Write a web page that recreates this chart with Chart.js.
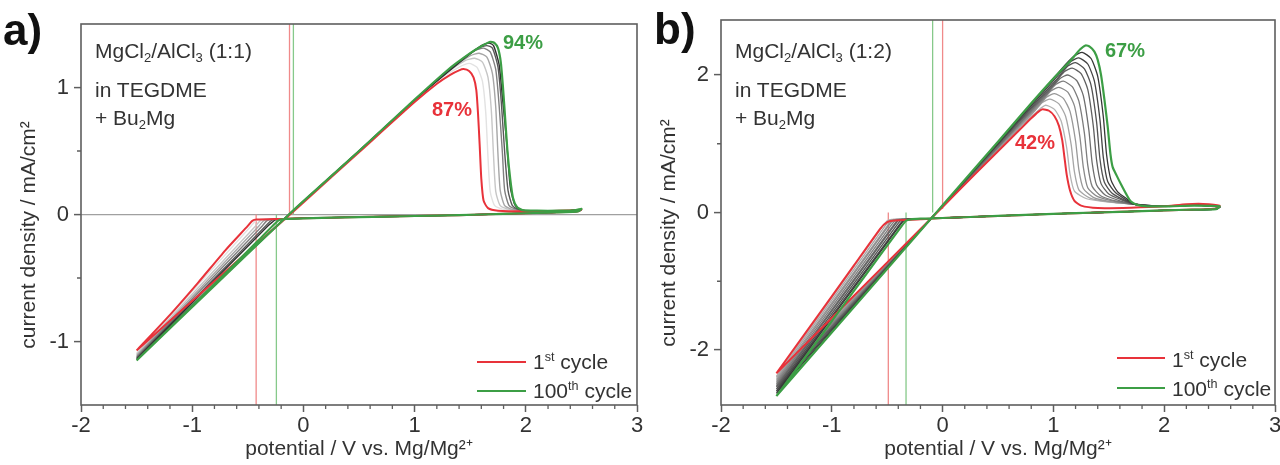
<!DOCTYPE html>
<html><head><meta charset="utf-8">
<script src="https://cdn.jsdelivr.net/npm/chart.js@4.4.1/dist/chart.umd.min.js"></script>
<style>
html,body{margin:0;padding:0;background:#fff;width:1280px;height:465px;overflow:hidden;font-family:"Liberation Sans",Arial,sans-serif;}
#wrap{position:relative;width:1280px;height:465px;}
canvas{position:absolute;top:0;}
.t{position:absolute;white-space:nowrap;color:#333;line-height:1;font-size:21px;}
.pl{font-weight:bold;font-size:44px;color:#111;}
.pc{font-weight:bold;font-size:20px;}
.sb{font-size:0.62em;position:relative;top:0.32em;}
.sp{font-size:0.6em;position:relative;top:-0.6em;}
.lg{position:absolute;height:2px;}
</style></head><body>
<div id="wrap">
<canvas id="ca" width="660" height="465" style="left:0"></canvas>
<canvas id="cb" width="640" height="465" style="left:640px"></canvas>

<div class="t pl" style="left:3px;top:8px">a)</div>
<div class="t" style="left:95px;top:40px">MgCl<span class="sb">2</span>/AlCl<span class="sb">3</span> (1:1)</div>
<div class="t" style="left:95px;top:79px">in TEGDME</div>
<div class="t" style="left:95px;top:107px">+ Bu<span class="sb">2</span>Mg</div>
<div class="t pc" style="left:503px;top:32px;color:#3c9e45">94%</div>
<div class="t pc" style="left:432px;top:99px;color:#e8323a">87%</div>
<div class="lg" style="left:477px;top:361px;width:49px;background:#e8323a"></div>
<div class="t" style="left:533px;top:351px">1<span class="sp">st</span> cycle</div>
<div class="lg" style="left:477px;top:390px;width:49px;background:#3c9e45"></div>
<div class="t" style="left:533px;top:380px">100<span class="sp">th</span> cycle</div>

<div class="t pl" style="left:654px;top:7px">b)</div>
<div class="t" style="left:735px;top:40px">MgCl<span class="sb">2</span>/AlCl<span class="sb">3</span> (1:2)</div>
<div class="t" style="left:735px;top:79px">in TEGDME</div>
<div class="t" style="left:735px;top:107px">+ Bu<span class="sb">2</span>Mg</div>
<div class="t pc" style="left:1105px;top:40px;color:#3c9e45">67%</div>
<div class="t pc" style="left:1015px;top:132px;color:#e8323a">42%</div>
<div class="lg" style="left:1117px;top:357px;width:48px;background:#e8323a"></div>
<div class="t" style="left:1172px;top:349px">1<span class="sp">st</span> cycle</div>
<div class="lg" style="left:1117px;top:387px;width:48px;background:#3c9e45"></div>
<div class="t" style="left:1172px;top:378px">100<span class="sp">th</span> cycle</div>
</div>
<script>
// ---------- axis ticks ----------
const xTicks = [-2, -1, 0, 1, 2, 3];
const xMinorTicks = [-1.8,-1.6,-1.4,-1.2,-0.8,-0.6,-0.4,-0.2,0.2,0.4,0.6,0.8,1.2,1.4,1.6,1.8,2.2,2.4,2.6,2.8];
const aYTicks = [-1, 0, 1];
const aYMinorTicks = [-0.5, 0.5];
const bYTicks = [-2, 0, 2];
const bYMinorTicks = [-1, 1];
const aYRange = [-1.5, 1.5];
const bYRange = [-2.8, 2.8];

// ---------- panel a: MgCl2/AlCl3 (1:1) ----------
const aCycle1 = [[-1.50,-1.07],[-0.80,-0.525],[-0.12,0.00],[0.00,0.095],[0.50,0.49],[1.00,0.885],[1.20,1.03],[1.32,1.10],[1.40,1.135],[1.44,1.145],[1.49,1.13],[1.53,1.08],[1.555,0.98],[1.57,0.80],[1.585,0.55],[1.60,0.28],[1.62,0.11],[1.66,0.05],[1.75,0.03],[2.00,0.025],[2.30,0.03],[2.48,0.035],[2.50,0.04],
  [2.47,0.025],[2.20,0.015],[1.80,0.005],[1.40,-0.005],[1.00,-0.012],[0.50,-0.02],[0.00,-0.03],[-0.20,-0.035],[-0.42,-0.04],[-0.46,-0.05],[-0.50,-0.09],[-0.70,-0.28],[-0.95,-0.54],[-1.20,-0.79],[-1.50,-1.07]];
const aCycle100 = [[-1.50,-1.15],[-0.80,-0.56],[-0.13,0.00],[0.00,0.105],[0.50,0.50],[1.00,0.905],[1.30,1.14],[1.50,1.27],[1.60,1.325],[1.68,1.36],[1.72,1.35],[1.75,1.31],[1.775,1.20],[1.795,1.00],[1.815,0.75],[1.835,0.50],[1.86,0.28],[1.885,0.13],[1.92,0.06],[1.97,0.035],[2.10,0.03],[2.30,0.03],[2.45,0.035],[2.50,0.045],
  [2.47,0.025],[2.20,0.015],[1.80,0.005],[1.40,-0.005],[1.00,-0.012],[0.50,-0.02],[0.00,-0.03],[-0.15,-0.035],[-0.22,-0.045],[-0.26,-0.075],[-0.40,-0.20],[-0.70,-0.46],[-1.00,-0.72],[-1.25,-0.935],[-1.50,-1.15]];
const aGrayTips = [-1.09, -1.10, -1.11, -1.12, -1.13, -1.14];
const aGrayRise = [[-0.13,0.00],[0.50,0.50],[1.00,0.90]];
const aGrayPeaks = [
  [[1.20,1.05],[1.40,1.16],[1.49,1.19],[1.56,1.16],[1.61,1.05],[1.64,0.80],[1.66,0.45],[1.68,0.18],[1.72,0.07],[1.80,0.04]],
  [[1.25,1.09],[1.45,1.21],[1.54,1.23],[1.61,1.20],[1.66,1.08],[1.69,0.82],[1.71,0.46],[1.73,0.18],[1.77,0.07],[1.85,0.04]],
  [[1.30,1.13],[1.50,1.25],[1.58,1.27],[1.65,1.24],[1.70,1.11],[1.73,0.84],[1.75,0.47],[1.77,0.19],[1.81,0.07],[1.88,0.04]],
  [[1.35,1.17],[1.54,1.29],[1.62,1.31],[1.68,1.28],[1.73,1.14],[1.76,0.86],[1.79,0.48],[1.81,0.19],[1.85,0.07],[1.92,0.04]],
  [[1.40,1.20],[1.57,1.31],[1.65,1.33],[1.70,1.31],[1.75,1.16],[1.78,0.88],[1.81,0.49],[1.84,0.19],[1.88,0.07],[1.95,0.035]],
  [[1.45,1.23],[1.60,1.33],[1.67,1.35],[1.71,1.33],[1.76,1.18],[1.79,0.92],[1.83,0.55],[1.86,0.22],[1.90,0.08],[1.96,0.035]]
];
const aGrayTail = [[2.00,0.03],[2.20,0.025],[2.40,0.03],[2.50,0.04]];
const aGrayCath = [[2.47,0.025],[2.20,0.015],[1.80,0.005],[1.40,-0.005],[1.00,-0.012],[0.50,-0.02],[0.00,-0.03],[-0.20,-0.035]];
const aGrayKinks = [
  [[-0.40,-0.04],[-0.43,-0.05],[-0.47,-0.09]],
  [[-0.36,-0.04],[-0.39,-0.05],[-0.43,-0.09]],
  [[-0.33,-0.04],[-0.36,-0.05],[-0.40,-0.09]],
  [[-0.30,-0.04],[-0.33,-0.05],[-0.37,-0.09]],
  [[-0.27,-0.04],[-0.30,-0.055],[-0.34,-0.09]],
  [[-0.25,-0.04],[-0.28,-0.06],[-0.32,-0.09]]
];
const aGrayColors = ['#e2e2e2','#c6c6c6','#a6a6a6','#808080','#585858','#303030'];
const aMarkRed = [-0.125, -0.425];   // crossover, deposition onset (1st)
const aMarkGreen = [-0.09, -0.243];  // crossover, deposition onset (100th)

// ---------- panel b: MgCl2/AlCl3 (1:2) ----------
const bCycle1 = [[-1.50,-2.34],[-0.80,-1.21],[-0.10,-0.08],[0.00,0.08],[0.30,0.57],[0.55,0.97],[0.70,1.21],[0.80,1.37],[0.86,1.46],[0.90,1.50],[0.96,1.48],[1.01,1.40],[1.05,1.26],[1.08,1.05],[1.10,0.80],[1.12,0.55],[1.15,0.32],[1.19,0.17],[1.25,0.10],[1.40,0.065],[1.70,0.07],[2.00,0.09],[2.20,0.12],[2.35,0.125],[2.50,0.10],
  [2.47,0.06],[2.20,0.04],[1.80,0.02],[1.40,0.00],[1.00,-0.02],[0.50,-0.05],[0.00,-0.08],[-0.20,-0.10],[-0.45,-0.12],[-0.50,-0.14],[-0.56,-0.23],[-0.80,-0.77],[-1.00,-1.22],[-1.25,-1.78],[-1.50,-2.34]];
const bCycle100 = [[-1.50,-2.67],[-0.80,-1.375],[-0.10,-0.08],[0.00,0.105],[0.50,1.03],[0.80,1.59],[1.00,1.95],[1.15,2.20],[1.24,2.37],[1.29,2.43],[1.33,2.41],[1.37,2.34],[1.40,2.22],[1.43,2.00],[1.46,1.65],[1.49,1.25],[1.515,0.85],[1.535,0.66],[1.57,0.54],[1.61,0.41],[1.66,0.26],[1.70,0.16],[1.76,0.11],[1.85,0.09],[2.05,0.09],[2.27,0.10],[2.50,0.09],
  [2.47,0.05],[2.20,0.04],[1.80,0.02],[1.40,0.00],[1.00,-0.02],[0.50,-0.05],[0.00,-0.08],[-0.20,-0.09],[-0.29,-0.10],[-0.33,-0.12],[-0.38,-0.22],[-0.70,-0.92],[-1.00,-1.58],[-1.25,-2.13],[-1.50,-2.67]];
const bGrayTips = [-2.38, -2.40, -2.43, -2.46, -2.49, -2.52, -2.54, -2.57, -2.60, -2.63];
const bGrayRise = [[-0.10,-0.08]];
const bGrayPeaks = [
  [[0.50,0.90],[0.75,1.31],[0.86,1.48],[0.93,1.56],[1.01,1.50],[1.07,1.33],[1.12,0.94],[1.15,0.56],[1.19,0.31],[1.30,0.20],[1.50,0.15],[1.73,0.12]],
  [[0.50,0.92],[0.79,1.40],[0.90,1.60],[0.97,1.65],[1.05,1.58],[1.11,1.40],[1.16,0.99],[1.19,0.59],[1.23,0.33],[1.33,0.21],[1.52,0.15],[1.73,0.12]],
  [[0.50,0.93],[0.83,1.48],[0.94,1.68],[1.01,1.73],[1.09,1.66],[1.15,1.47],[1.20,1.04],[1.23,0.62],[1.27,0.35],[1.36,0.22],[1.54,0.15],[1.73,0.12]],
  [[0.50,0.94],[0.87,1.57],[0.98,1.77],[1.05,1.82],[1.13,1.75],[1.19,1.55],[1.24,1.09],[1.27,0.66],[1.31,0.36],[1.40,0.23],[1.56,0.16],[1.73,0.12]],
  [[0.50,0.95],[0.91,1.66],[1.02,1.86],[1.09,1.91],[1.17,1.83],[1.23,1.62],[1.28,1.15],[1.31,0.69],[1.35,0.38],[1.43,0.24],[1.58,0.16],[1.73,0.12]],
  [[0.50,0.96],[0.95,1.75],[1.06,1.95],[1.13,2.00],[1.21,1.92],[1.27,1.70],[1.32,1.20],[1.35,0.72],[1.39,0.40],[1.47,0.25],[1.60,0.17],[1.73,0.12]],
  [[0.50,0.98],[0.99,1.84],[1.10,2.05],[1.17,2.10],[1.25,2.02],[1.31,1.79],[1.36,1.26],[1.39,0.76],[1.43,0.42],[1.50,0.27],[1.62,0.18],[1.73,0.12]],
  [[0.50,0.99],[1.02,1.92],[1.13,2.13],[1.20,2.18],[1.28,2.09],[1.34,1.85],[1.39,1.31],[1.42,0.78],[1.46,0.44],[1.53,0.28],[1.64,0.18],[1.73,0.12]],
  [[0.50,1.00],[1.05,2.01],[1.16,2.20],[1.23,2.25],[1.31,2.16],[1.37,1.91],[1.42,1.35],[1.45,0.81],[1.49,0.45],[1.56,0.29],[1.66,0.18],[1.73,0.12]],
  [[0.50,1.01],[1.08,2.10],[1.19,2.28],[1.26,2.33],[1.34,2.24],[1.40,1.98],[1.45,1.40],[1.48,0.84],[1.52,0.47],[1.58,0.30],[1.67,0.19],[1.73,0.12]]
];
const bGrayTail = [[2.00,0.09],[2.25,0.11],[2.50,0.08]];
const bGrayCath = [[2.47,0.05],[2.20,0.04],[1.80,0.02],[1.40,0.00],[1.00,-0.02],[0.50,-0.05],[0.00,-0.08],[-0.20,-0.09]];
const bGrayKinks = [
  [[-0.46,-0.10],[-0.50,-0.12],[-0.55,-0.22]],
  [[-0.44,-0.10],[-0.48,-0.12],[-0.53,-0.22]],
  [[-0.42,-0.10],[-0.46,-0.12],[-0.51,-0.22]],
  [[-0.41,-0.10],[-0.45,-0.12],[-0.50,-0.22]],
  [[-0.39,-0.10],[-0.43,-0.12],[-0.48,-0.22]],
  [[-0.37,-0.10],[-0.41,-0.12],[-0.46,-0.22]],
  [[-0.36,-0.10],[-0.40,-0.12],[-0.45,-0.22]],
  [[-0.34,-0.10],[-0.38,-0.12],[-0.43,-0.22]],
  [[-0.32,-0.10],[-0.36,-0.12],[-0.41,-0.22]],
  [[-0.31,-0.10],[-0.35,-0.12],[-0.40,-0.22]]
];
const bGrayColors = ['#b4b4b4','#a6a6a6','#989898','#8a8a8a','#7c7c7c','#6e6e6e','#606060','#525252','#444444','#363636'];
const bMarkRed = [0.0, -0.49];
const bMarkGreen = [-0.09, -0.33];

// ---------- styles ----------
const RED = '#e8323a', GREEN = '#3c9e45', AX = '#5e5e5e', TXT = '#333';
const RED_L = '#f08a8a', GREEN_L = '#86c98a';
const FONT = "'Liberation Sans', Arial, sans-serif";
Chart.defaults.font.family = FONT;
const X_TITLE = 'potential / V vs. Mg/Mg²⁺';
const Y_TITLE = 'current density / mA/cm²';

const P = a => a.map(p => ({x: p[0], y: p[1]}));
function curve(arr, color, w, order){
  return {data: P(arr), showLine: true, borderColor: color, borderWidth: w, pointRadius: 0, tension: 0.2, fill: false, order: order};
}
function marker(v, y0, y1, color){
  return {data: [{x: v, y: y0}, {x: v, y: y1}], showLine: true, borderColor: color, borderWidth: 1.3, pointRadius: 0, tension: 0, order: 100};
}
function grayLoop(tip, rise, peak, tail, cath, kink){
  return [[-1.5, tip], ...rise, ...peak, ...tail, ...cath, ...kink, [-1.5, tip]];
}

const framePlugin = {
  id: 'frame',
  afterDraw(chart, args, o){
    const {ctx, chartArea: ca, scales: {x, y}} = chart;
    ctx.save();
    ctx.strokeStyle = AX; ctx.lineWidth = 1.6;
    ctx.strokeRect(ca.left, ca.top, ca.right - ca.left, ca.bottom - ca.top);
    ctx.lineWidth = 1.3;
    ctx.beginPath();
    for (const v of o.xMinor){ const px = x.getPixelForValue(v); ctx.moveTo(px, ca.bottom); ctx.lineTo(px, ca.bottom + 4); }
    for (const v of o.yMinor){ const py = y.getPixelForValue(v); ctx.moveTo(ca.left, py); ctx.lineTo(ca.left - 4, py); }
    ctx.stroke();
    ctx.restore();
  }
};

function makeChart(id, datasets, yRange, yTicks, yMinor, zeroLine, padTop, padRight){
  return new Chart(document.getElementById(id), {
    type: 'scatter',
    data: {datasets},
    plugins: [framePlugin],
    options: {
      responsive: false, animation: false, events: [],
      layout: {padding: {top: padTop, right: padRight, left: 0, bottom: 0}},
      plugins: {legend: {display: false}, tooltip: {enabled: false}, frame: {xMinor: xMinorTicks, yMinor: yMinor}},
      scales: {
        x: {
          type: 'linear', min: -2, max: 3,
          afterBuildTicks: s => { s.ticks = xTicks.map(v => ({value: v})); },
          afterFit: s => { s.height = 60; s.paddingLeft = 0; s.paddingRight = 0; },
          border: {display: false},
          grid: {display: true, drawOnChartArea: false, drawTicks: true, tickLength: 7, tickColor: AX, tickWidth: 1.5},
          ticks: {color: TXT, font: {size: 22}, padding: 1, maxRotation: 0},
          title: {display: true, text: X_TITLE, color: TXT, font: {size: 21}, padding: {top: 0, bottom: 3}}
        },
        y: {
          type: 'linear', min: yRange[0], max: yRange[1],
          afterBuildTicks: s => { s.ticks = yTicks.map(v => ({value: v})); },
          afterFit: s => { s.width = 81; s.paddingTop = 0; s.paddingBottom = 0; },
          border: {display: false},
          grid: {display: true, drawOnChartArea: zeroLine, drawTicks: true, tickLength: 7, tickColor: AX, tickWidth: 1.5,
                 color: c => (c.tick && c.tick.value === 0) ? '#a0a0a0' : 'rgba(0,0,0,0)', lineWidth: 1.2},
          ticks: {color: TXT, font: {size: 22}, padding: 5},
          title: {display: true, text: Y_TITLE + '       ', color: TXT, font: {size: 21}, padding: {top: 17, bottom: 0}}
        }
      }
    }
  });
}

// panel a datasets (100th on top, 1st next, intermediate cycles beneath)
const aSets = [curve(aCycle100, GREEN, 2.2, 0), curve(aCycle1, RED, 2, 1)];
for (let i = aGrayPeaks.length - 1; i >= 0; i--){
  aSets.push(curve(grayLoop(aGrayTips[i], aGrayRise, aGrayPeaks[i], aGrayTail, aGrayCath, aGrayKinks[i]), aGrayColors[i], 1.4, 2 + (aGrayPeaks.length - 1 - i)));
}
aSets.push(marker(aMarkRed[0], 0, aYRange[1], RED_L), marker(aMarkRed[1], 0, aYRange[0], RED_L));
aSets.push(marker(aMarkGreen[0], 0, aYRange[1], GREEN_L), marker(aMarkGreen[1], 0, aYRange[0], GREEN_L));
makeChart('ca', aSets, aYRange, aYTicks, aYMinorTicks, true, 24, 23);

// panel b datasets
const bSets = [curve(bCycle100, GREEN, 2.2, 0), curve(bCycle1, RED, 2, 1)];
for (let i = bGrayPeaks.length - 1; i >= 0; i--){
  bSets.push(curve(grayLoop(bGrayTips[i], bGrayRise, bGrayPeaks[i], bGrayTail, bGrayCath, bGrayKinks[i]), bGrayColors[i], 1.3, 2 + (bGrayPeaks.length - 1 - i)));
}
bSets.push(marker(bMarkRed[0], 0.05, bYRange[1], RED_L), marker(bMarkRed[1], 0, bYRange[0], RED_L));
bSets.push(marker(bMarkGreen[0], 0, bYRange[1], GREEN_L), marker(bMarkGreen[1], 0, bYRange[0], GREEN_L));
makeChart('cb', bSets, bYRange, bYTicks, bYMinorTicks, false, 20, 5);
</script>
</body></html>
